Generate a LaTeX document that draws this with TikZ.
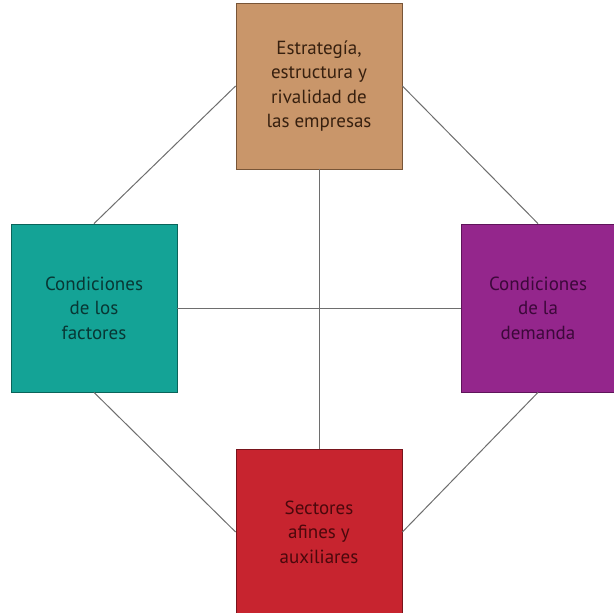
\documentclass[tikz,border=0pt]{standalone}
\usepackage{fontspec}
\setmainfont{PT Sans}
\definecolor{tanF}{RGB}{201,150,106}
\definecolor{tanD}{RGB}{120,85,55}
\definecolor{tanT}{RGB}{55,32,15}
\definecolor{tealF}{RGB}{20,163,150}
\definecolor{tealD}{RGB}{10,100,90}
\definecolor{tealT}{RGB}{8,55,52}
\definecolor{purF}{RGB}{148,38,140}
\definecolor{purD}{RGB}{95,20,90}
\definecolor{purT}{RGB}{60,8,58}
\definecolor{redF}{RGB}{199,36,47}
\definecolor{redD}{RGB}{120,20,28}
\definecolor{redT}{RGB}{75,8,12}
\definecolor{linkC}{RGB}{110,110,110}
\tikzset{
  box/.style={draw, line width=0.8pt, rectangle, align=center, inner sep=0pt,
    font=\fontsize{19}{24.5}\selectfont},
  link/.style={draw=linkC, line width=1pt}
}
\begin{document}
\begin{tikzpicture}[x=1pt,y=-1pt]
\useasboundingbox (0,0) rectangle (614,613);
\node[box, fill=tanF, draw=tanD, text=tanT, minimum width=166pt, minimum height=166pt] (top) at (319,86)
  {Estrategía,\\estructura y\\rivalidad de\\las empresas};
\node[box, fill=tealF, draw=tealD, text=tealT, minimum width=166pt, minimum height=168pt] (left) at (94,308)
  {Condiciones\\de los\\factores};
\node[box, fill=purF, draw=purD, text=purT, minimum width=154pt, minimum height=168pt] (right) at (538,308)
  {Condiciones\\de la\\demanda};
\node[box, fill=redF, draw=redD, text=redT, minimum width=166pt, minimum height=166pt] (bottom) at (319,532)
  {Sectores\\afines y\\auxiliares};
\draw[link] (top.west) -- (left.north);
\draw[link] (top.east) -- (right.north);
\draw[link] (left.south) -- (bottom.west);
\draw[link] (right.south) -- (bottom.east);
\draw[link] (top.south) -- (bottom.north);
\draw[link] (left.east) -- (right.west);
\end{tikzpicture}
\end{document}
